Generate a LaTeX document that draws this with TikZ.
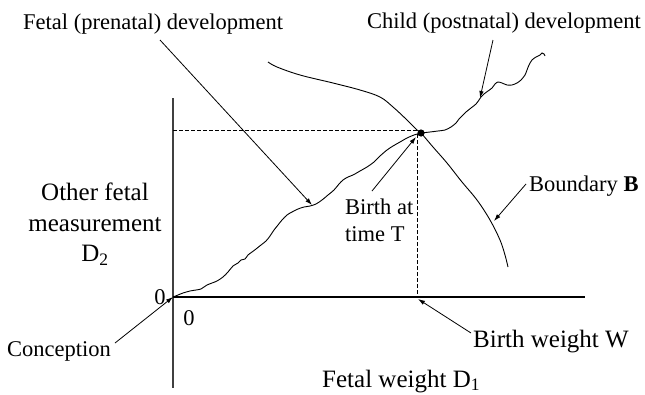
\documentclass[tikz,border=0pt]{standalone}
\usepackage{fontspec}
\setmainfont{Liberation Serif}
\usetikzlibrary{arrows.meta}
\begin{document}
\begin{tikzpicture}[x=1pt,y=-1pt,
  lbl/.style={inner sep=0pt,font=\fontsize{22.5}{27}\selectfont},
  biglbl/.style={inner sep=0pt,font=\fontsize{25}{30.5}\selectfont},
  axis/.style={line width=1.3pt},
  crv/.style={line width=0.9pt},
  dsh/.style={line width=1pt,dash pattern=on 3.5pt off 2.5pt},
  arr/.style={line width=0.8pt,-{Latex[length=7pt,width=4.5pt]}}]
\useasboundingbox (0,0) rectangle (645,394);
% axes
\coordinate (O) at (173,297);
\coordinate (ytop) at (173,98);
\coordinate (ybot) at (173,388);
\coordinate (xend) at (585,297);
\draw[axis,black!75] (ytop) -- (ybot);
\draw[axis] (O) -- (xend);
% birth point
\coordinate (B) at (421,133);
\coordinate (hL) at (173,130);
\coordinate (hR) at (419,130);
\coordinate (vT) at (417,134);
\coordinate (vB) at (417,297);
\draw[dsh] (hL) -- (hR);
\draw[dsh] (vT) -- (vB);
% boundary
\draw[crv] plot[smooth,tension=0.6] coordinates {(268,62) (277,67) (300,75) (333,83) (360,90) (380,97) (393,107) (407,120) (417,130) (421,133) (433,147) (447,163) (462,182) (477,200) (490,220) (500,240) (505,255) (508,267)};
% fetal curve
\draw[crv] plot[smooth,tension=0.5] coordinates {(173,297) (178,295) (183,293) (190,291) (196,290) (201,289) (204,287) (207,285) (212,283) (217,281) (223,277) (228,272) (233,266) (238,263) (241,260) (245,259) (248,255) (252,252) (256,249) (261,245) (266,241) (270,236) (274,230) (278,225) (282,220) (287,215) (292,212) (298,209) (304,207) (310,206) (316,204) (322,200) (328,195) (334,190) (339,184) (343,180) (348,177) (353,175) (360,171) (367,167) (374,162) (380,156) (387,150) (393,146) (400,142) (407,138) (414,135) (421,133)};
% child curve
\draw[crv] plot[smooth,tension=0.5] coordinates {(421,133) (430,132) (438,131) (445,130) (451,127) (456,123) (459,119) (462,116) (466,112) (471,108) (476,104) (479,100) (481,97) (484,94) (488,91) (492,88) (495,84) (498,82) (502,83) (507,85) (512,85) (517,83) (521,80) (525,75) (527,70) (529,65) (532,60) (536,57) (540,55) (542,53) (544,54) (545,56)};
\fill (B) circle (3.6);
% labels
\node[lbl,anchor=base west] (fetal) at (23,29) {Fetal (prenatal) development};
\node[lbl,anchor=base west] (child) at (367,28) {Child (postnatal) development};
\node[biglbl,align=center,anchor=north] (other) at (95,183) {Other fetal\\measurement\\D\textsubscript{2}};
\node[lbl,anchor=base] (zeroL) at (160,304) {0};
\node[lbl,anchor=base] (zeroB) at (189,325) {0};
\node[lbl,anchor=base west] (concep) at (7,356) {Conception};
\node[lbl,align=left,anchor=north west] (birthT) at (345,199) {Birth at\\time T};
\node[lbl,anchor=base west] (bound) at (529,191) {Boundary \textbf{B}};
\node[biglbl,anchor=base west] (bw) at (473,347) {Birth weight W};
\node[biglbl,anchor=base west] (fw) at (322,387) {Fetal weight D\textsubscript{1}};
% arrow endpoints
\coordinate (fetalFrom) at (160,40);
\coordinate (fetalTip) at (312,205);
\coordinate (childFrom) at (493,40);
\coordinate (childTip) at (480,98);
\coordinate (concFrom) at (115,343);
\coordinate (birthFrom) at (372,191);
\coordinate (birthTip) at (416,137);
\coordinate (boundFrom) at (526,184);
\coordinate (boundTip) at (494,221);
\coordinate (bwFrom) at (471,333);
\coordinate (bwTip) at (418,299);
\draw[arr] (fetalFrom) -- (fetalTip);
\draw[arr] (childFrom) -- (childTip);
\draw[arr] (concFrom) -- (O);
\draw[arr] (birthFrom) -- (birthTip);
\draw[arr] (boundFrom) -- (boundTip);
\draw[arr] (bwFrom) -- (bwTip);
\end{tikzpicture}
\end{document}
